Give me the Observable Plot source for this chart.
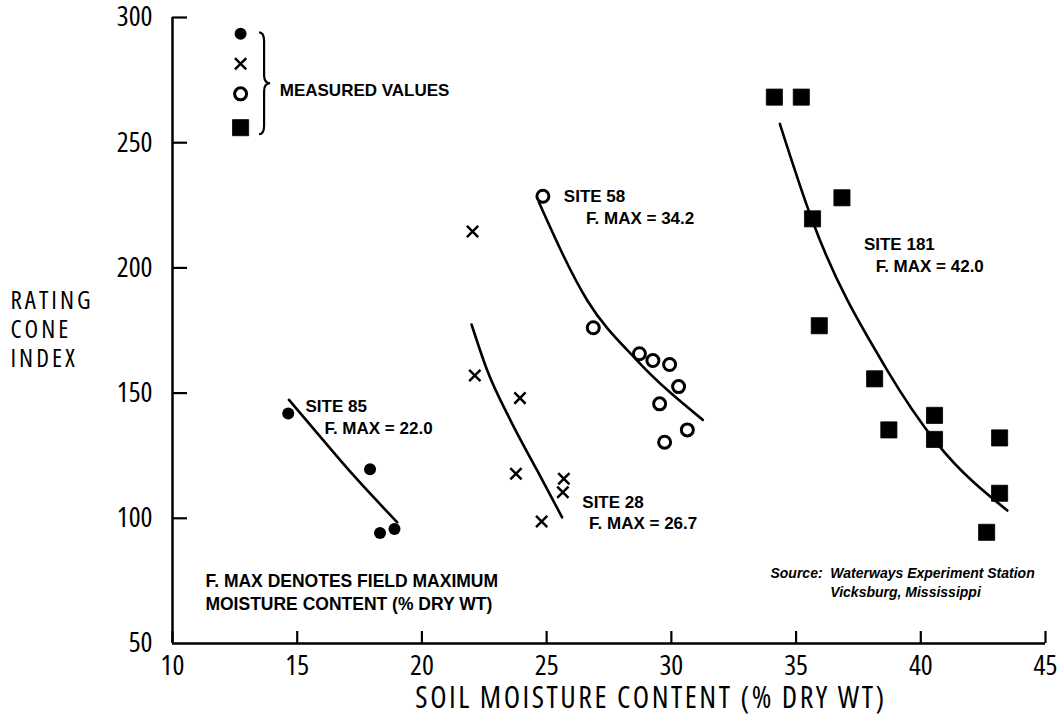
<!DOCTYPE html>
<html>
<head>
<meta charset="utf-8">
<script src="https://cdn.jsdelivr.net/npm/d3@7"></script>
<script src="https://cdn.jsdelivr.net/npm/@observablehq/plot@0.6"></script>
<style>
  body { margin: 0; background: #fff; }
  #chart svg { display: block; }
</style>
</head>
<body>
<div id="chart"></div>
<script>
// ---- Axis ticks ----
const xTicks = [10, 15, 20, 25, 30, 35, 40, 45];
const yTicks = [50, 100, 150, 200, 250, 300];

// ---- Measured values (soil moisture %, rating cone index) ----
const site85X = [14.64, 17.92, 18.32, 18.90];
const site85Y = [141.9, 119.6, 94.1, 95.7];

const site28X = [22.03, 22.12, 23.93, 23.77, 25.69, 25.65, 24.80];
const site28Y = [214.5, 157.0, 148.0, 117.8, 115.8, 110.4, 98.7];

const site58X = [24.85, 26.87, 28.72, 29.26, 29.93, 30.29, 29.53, 30.64, 29.73];
const site58Y = [228.6, 176.1, 165.7, 163.0, 161.4, 152.6, 145.7, 135.3, 130.4];

const site181X = [34.13, 35.21, 36.84, 35.66, 35.93, 38.15, 38.72, 40.55, 40.55, 43.16, 43.16, 42.64];
const site181Y = [268.2, 268.2, 228.0, 219.6, 176.9, 155.7, 135.3, 141.1, 131.5, 132.1, 110.0, 94.4];

// ---- Fitted curves ----
const fit85X = [14.67, 15.93, 17.27, 19.01];
const fit85Y = [147.3, 132.5, 117.0, 98.4];
const fit28X = [21.99, 22.62, 23.55, 24.62, 25.62];
const fit28Y = [177.4, 159.0, 139.1, 119.1, 100.4];
const fit58X = [24.69, 26.63, 28.63, 31.26];
const fit58Y = [226.2, 187.0, 163.0, 139.3];
const fit181X = [34.35, 35.65, 38.62, 40.66, 43.47];
const fit181Y = [257.5, 218.9, 159.7, 129.8, 103.1];

// ---- Legend (symbols stacked beside a brace) ----
const legendSymbols = ["dot", "times", "ring", "square"];
const legendX = [12.73, 12.73, 12.73, 12.73];
const legendY = [293.5, 281.5, 269.5, 256.0];

// ---- Annotation texts ----
const siteLabels = ["SITE 85", "F. MAX = 22.0", "SITE 28", "F. MAX = 26.7", "SITE 58", "F. MAX = 34.2", "SITE 181", "F. MAX = 42.0", "MEASURED VALUES"];
const siteLabelX = [15.33, 16.09, 26.43, 26.70, 25.69, 26.58, 37.72, 38.19, 14.30];
const siteLabelY = [144.6, 136.0, 106.2, 98.0, 228.5, 219.9, 209.2, 200.6, 270.8];

const noteLines = ["F. MAX DENOTES FIELD MAXIMUM", "MOISTURE CONTENT (% DRY WT)"];
const noteX = [11.32, 11.32];
const noteY = [74.8, 65.6];

const sourceLines = ["Source:  Waterways Experiment Station", "Vicksburg, Mississippi"];
const sourceX = [39.27, 39.39];
const sourceY = [77.9, 70.4];

const xTitle = "SOIL MOISTURE CONTENT (% DRY WT)";
const yTitle = "RATING\nCONE\nINDEX";

// ---- Build tables ----
const zip = (xs, ys) => xs.map((x, i) => ({x, y: ys[i]}));
const pts85 = zip(site85X, site85Y);
const pts28 = zip(site28X, site28Y);
const pts58 = zip(site58X, site58Y);
const pts181 = zip(site181X, site181Y);
const fits = [
  ...zip(fit85X, fit85Y).map(d => ({...d, site: "85"})),
  ...zip(fit28X, fit28Y).map(d => ({...d, site: "28"})),
  ...zip(fit58X, fit58Y).map(d => ({...d, site: "58"})),
  ...zip(fit181X, fit181Y).map(d => ({...d, site: "181"}))
];
const legend = legendSymbols.map((s, i) => ({s, x: legendX[i], y: legendY[i]}));
const labels = siteLabels.map((t, i) => ({t, x: siteLabelX[i], y: siteLabelY[i]}));
const notes = noteLines.map((t, i) => ({t, x: noteX[i], y: noteY[i]}));
const sources = sourceLines.map((t, i) => ({t, x: sourceX[i], y: sourceY[i]}));

const narrow = "'Open Sans', 'DejaVu Sans Condensed', sans-serif";
const bold = "'Liberation Sans', Arial, Helvetica, sans-serif";

// Brace drawn from the legend's scaled positions
function brace(index, scales) {
  const ys = legendY.map(v => scales.y(v));
  const x0 = scales.x(legendX[0]) + 19;
  const t = Math.min(...ys) - 1, b = Math.max(...ys) + 7, m = (t + b) / 2;
  const xs = x0 + 5, xt = x0 + 11;
  const p = `M${x0},${t} Q${xs},${t} ${xs},${t + 9} L${xs},${m - 8} Q${xs},${m} ${xt},${m} Q${xs},${m} ${xs},${m + 8} L${xs},${b - 9} Q${xs},${b} ${x0},${b}`;
  const g = document.createElementNS("http://www.w3.org/2000/svg", "path");
  g.setAttribute("d", p);
  g.setAttribute("fill", "none");
  g.setAttribute("stroke", "black");
  g.setAttribute("stroke-width", "2.2");
  return g;
}

const chart = Plot.plot({
  width: 1061,
  height: 716,
  marginLeft: 172,
  marginRight: 16,
  marginTop: 17,
  marginBottom: 73,
  style: {background: "#fff", color: "black", fontFamily: narrow, fontStretch: "75%"},
  x: {domain: [10, 45]},
  y: {domain: [50, 300]},
  marks: [
    // axis lines
    Plot.ruleX([10], {stroke: "black", strokeWidth: 2.5}),
    Plot.ruleY([50], {stroke: "black", strokeWidth: 2.5}),
    // inward ticks
    Plot.axisX({ticks: xTicks, tickSize: 12, dy: -12, tickFormat: () => "", label: null, strokeWidth: 2.2}),
    Plot.axisY({ticks: yTicks.slice(1), tickSize: 15, dx: 15, tickFormat: () => "", label: null, strokeWidth: 2.2}),
    // tick labels
    Plot.axisX({ticks: xTicks, tickSize: 0, tickPadding: 12, label: null, fontSize: 28, fontFamily: narrow}),
    Plot.axisY({ticks: yTicks, tickSize: 0, tickPadding: 20, label: null, fontSize: 28, fontFamily: narrow}),
    // axis titles
    Plot.text([xTitle], {frameAnchor: "bottom", dy: 64, dx: 42, fontSize: 30, fontFamily: narrow}),
    Plot.text([yTitle], {frameAnchor: "left", dx: -162, dy: -2, textAnchor: "start", fontSize: 25, lineHeight: 1.16, fontFamily: narrow}),
    // fitted curves
    Plot.line(fits, {x: "x", y: "y", z: "site", curve: "monotone-x", stroke: "black", strokeWidth: 2.6}),
    // measured values
    Plot.dot(pts85, {x: "x", y: "y", r: 6, fill: "black", stroke: "none"}),
    Plot.dot(pts28, {x: "x", y: "y", r: 5.2, symbol: "times", stroke: "black", strokeWidth: 2.5}),
    Plot.dot(pts58, {x: "x", y: "y", r: 6, fill: "white", stroke: "black", strokeWidth: 3}),
    Plot.dot(pts181, {x: "x", y: "y", r: 9.1, symbol: "square", fill: "black", stroke: "black", strokeWidth: 0.8, strokeLinejoin: "round"}),
    // legend
    Plot.dot(legend.filter(d => d.s === "dot"), {x: "x", y: "y", r: 6, fill: "black"}),
    Plot.dot(legend.filter(d => d.s === "times"), {x: "x", y: "y", r: 5.2, symbol: "times", stroke: "black", strokeWidth: 2.5}),
    Plot.dot(legend.filter(d => d.s === "ring"), {x: "x", y: "y", r: 6, fill: "white", stroke: "black", strokeWidth: 3}),
    Plot.dot(legend.filter(d => d.s === "square"), {x: "x", y: "y", r: 9.1, symbol: "square", fill: "black", stroke: "black", strokeWidth: 0.8}),
    brace,
    // annotations
    Plot.text(labels, {x: "x", y: "y", text: "t", textAnchor: "start", fontSize: 17, fontWeight: "bold", fontFamily: bold}),
    Plot.text(notes, {x: "x", y: "y", text: "t", textAnchor: "start", fontSize: 17.5, fontWeight: "bold", fontFamily: bold}),
    Plot.text(sources, {x: "x", y: "y", text: "t", textAnchor: "middle", fontSize: 14, fontWeight: "bold", fontStyle: "italic", fontFamily: bold})
  ]
});
// letter-spacing for the spaced-out axis titles
d3.select(chart).selectAll("text").each(function () {
  const t = this.textContent;
  if (t === xTitle) this.setAttribute("letter-spacing", "2.5");
  else if (t.startsWith("RATING")) this.setAttribute("letter-spacing", "3");
});
document.getElementById("chart").appendChild(chart);
</script>
</body>
</html>
